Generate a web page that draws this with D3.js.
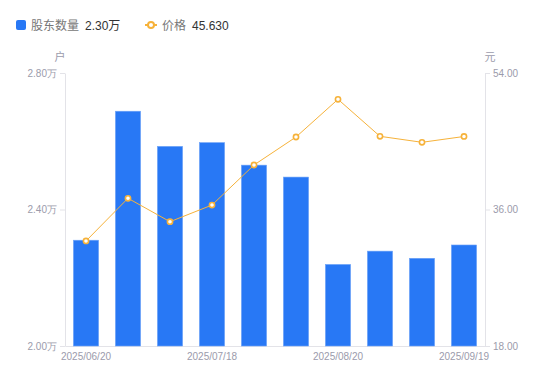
<!DOCTYPE html>
<html>
<head>
<meta charset="utf-8">
<script src="https://cdn.jsdelivr.net/npm/d3@7"></script>
<style>
  body { margin: 0; background: #fff; }
  svg { display: block; font-family: Arial, "Liberation Sans", "Noto Sans CJK SC", sans-serif; }
</style>
</head>
<body>
<svg id="chart"></svg>
<script>
const dates = ["2025/06/20", "2025/06/30", "2025/07/10", "2025/07/18", "2025/07/31",
  "2025/08/10", "2025/08/20", "2025/08/31", "2025/09/10", "2025/09/19"];
const holders = [2.31, 2.688, 2.585, 2.596, 2.53, 2.495, 2.239, 2.278, 2.257, 2.296]; // 万户
const prices = [31.85, 37.48, 34.39, 36.59, 41.87, 45.56, 50.53, 45.65, 44.86, 45.63];
const leftTicks = [2.0, 2.4, 2.8];
const rightTicks = [18, 36, 54];
const shownDates = ["2025/06/20", "2025/07/18", "2025/08/20", "2025/09/19"];

const WIDTH = 550;
const HEIGHT = 381;
const BLUE = "#2878f5";
const ORANGE = "#f6b23a";
const AXIS_TEXT = "#9b9bab";
const AXIS_LINE = "#e3e3e8";

const svg = d3.select("#chart").attr("width", WIDTH).attr("height", HEIGHT);

const margin = { left: 65, right: 65, top: 73, bottom: 35 };
const x = d3.scaleBand(dates, [margin.left, WIDTH - margin.right]).paddingInner(0.4).paddingOuter(0.2);
const yLeft = d3.scaleLinear([2.0, 2.8], [HEIGHT - margin.bottom, margin.top]);
const yRight = d3.scaleLinear([18, 54], [HEIGHT - margin.bottom, margin.top]);

// legend
const legend = svg.append("g").attr("font-size", 12);
legend.append("rect").attr("x", 16).attr("y", 20).attr("width", 10).attr("height", 10)
  .attr("rx", 2).attr("fill", BLUE);
legend.append("text").attr("x", 31).attr("y", 29.5).attr("fill", "#777").text("股东数量");
legend.append("text").attr("x", 85).attr("y", 29.5).attr("fill", "#333").text(d3.format(".2f")(holders[holders.length - 1]) + "万");
legend.append("line").attr("x1", 145).attr("x2", 157).attr("y1", 25).attr("y2", 25)
  .attr("stroke", ORANGE).attr("stroke-width", 2);
legend.append("circle").attr("cx", 151).attr("cy", 25).attr("r", 3)
  .attr("fill", "#fff").attr("stroke", ORANGE).attr("stroke-width", 2);
legend.append("text").attr("x", 162).attr("y", 29.5).attr("fill", "#777").text("价格");
legend.append("text").attr("x", 192).attr("y", 29.5).attr("fill", "#333").text(d3.format(".3f")(prices[prices.length - 1]));

// axes
const axisLeft = d3.axisLeft(yLeft).tickValues(leftTicks).tickSize(5).tickPadding(3)
  .tickFormat(d => d3.format(".2f")(d) + "万");
const axisRight = d3.axisRight(yRight).tickValues(rightTicks).tickSize(5).tickPadding(3)
  .tickFormat(d3.format(".2f"));
const axisBottom = d3.axisBottom(x).tickValues(shownDates).tickSize(0).tickPadding(7);

function styleAxis(g) {
  g.select(".domain").attr("stroke", AXIS_LINE);
  g.selectAll(".tick line").attr("stroke", AXIS_LINE);
  g.selectAll(".tick text").attr("fill", AXIS_TEXT).attr("font-size", 10);
}

svg.append("g").attr("transform", `translate(${margin.left},0)`)
  .call(axisLeft.tickSizeOuter(0)).call(styleAxis);
svg.append("g").attr("transform", `translate(${WIDTH - margin.right},0)`)
  .call(axisRight.tickSizeOuter(0)).call(styleAxis);
svg.append("g").attr("transform", `translate(0,${HEIGHT - margin.bottom})`)
  .call(axisBottom.tickSizeOuter(0)).call(styleAxis);

svg.append("text").attr("x", 60).attr("y", 61).attr("text-anchor", "middle")
  .attr("font-size", 11).attr("fill", AXIS_TEXT).text("户");
svg.append("text").attr("x", 490).attr("y", 61).attr("text-anchor", "middle")
  .attr("font-size", 11).attr("fill", AXIS_TEXT).text("元");

// bars
svg.append("g").selectAll("rect")
  .data(dates)
  .join("rect")
  .attr("x", d => x(d))
  .attr("width", x.bandwidth())
  .attr("y", (d, i) => yLeft(holders[i]))
  .attr("height", (d, i) => yLeft(2.0) - yLeft(holders[i]))
  .attr("fill", BLUE)
  .attr("stroke", "#6fa4f7")
  .attr("stroke-width", 0.6);

// price line
const cx = d => x(d) + x.bandwidth() / 2;
const line = d3.line().x((d, i) => cx(dates[i])).y(d => yRight(d));
svg.append("path").datum(prices)
  .attr("d", line)
  .attr("fill", "none")
  .attr("stroke", ORANGE)
  .attr("stroke-width", 1);

svg.append("g").selectAll("circle")
  .data(prices)
  .join("circle")
  .attr("cx", (d, i) => cx(dates[i]))
  .attr("cy", d => yRight(d))
  .attr("r", 2.6)
  .attr("fill", "#fff")
  .attr("stroke", ORANGE)
  .attr("stroke-width", 1.6);
</script>
</body>
</html>
